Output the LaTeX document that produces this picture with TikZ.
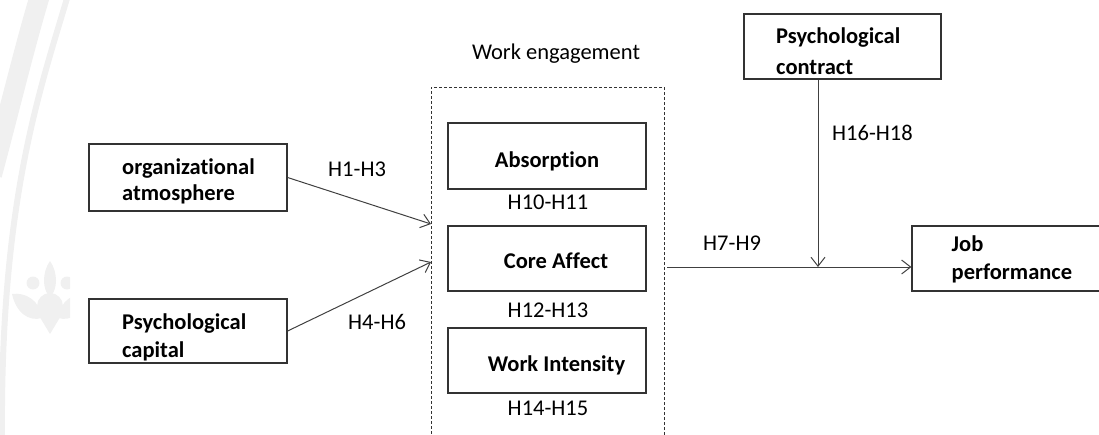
\documentclass[tikz,border=0pt]{standalone}
\usepackage{fontspec}
\setmainfont{Carlito}[Ligatures=NoCommon]
\usetikzlibrary{arrows.meta}
\begin{document}
\begin{tikzpicture}[x=1pt,y=-1pt,
  boxnode/.style={draw=black!80, line width=1.2pt, rectangle, inner sep=0pt},
  lbl/.style={font=\fontsize{22.5}{#1}\selectfont\bfseries, inner sep=0pt, align=left, anchor=base west},
  title/.style={font=\fontsize{22.5}{27}\selectfont\bfseries, inner sep=0pt, anchor=base},
  hyp/.style={font=\fontsize{22.5}{27}\selectfont, inner sep=0pt},
  link/.style={draw=black!75, line width=1pt, -{Straight Barb[length=9pt,width=14pt,line width=1pt]}},
  wm/.style={fill=black!6, draw=none}
]
\clip (0,0) rectangle (1099,434);

% faint background emblem at the left edge
\begin{scope}
  \clip (0,0) rectangle (70,434);
  \draw[black!6, line width=20pt] (41,-8) .. controls (25,45) and (12,100) .. (-8,175);
  \draw[black!6, line width=6pt] (68,-5) .. controls (40,90) and (0,200) .. (2,440);
  \fill[wm] (50,261) .. controls (58,272) and (58,290) .. (50,297)
                     .. controls (42,290) and (42,272) .. (50,261);
  \fill[wm] (33,283) circle (6.5);
  \fill[wm] (67,283) circle (6.5);
  \fill[wm] (50,306) ellipse (13 and 13);
  \fill[wm] (12,294) .. controls (25,292) and (40,300) .. (42,318)
                     .. controls (28,322) and (16,312) .. (12,294);
  \fill[wm] (88,294) .. controls (75,292) and (60,300) .. (58,318)
                     .. controls (72,322) and (84,312) .. (88,294);
  \fill[wm] (38,314) -- (50,334) -- (62,314) -- cycle;
\end{scope}

% antecedents (text anchored on the baseline of its last line)
\node[boxnode, minimum width=198, minimum height=67] (org) at (188,177.5) {};
\node[lbl=26] (orgtxt) at (122,200) {organizational\\atmosphere};
\node[boxnode, minimum width=198, minimum height=64] (cap) at (188,331) {};
\node[lbl=28] (captxt) at (122,357) {Psychological\\capital};

% work engagement group
\node[draw=black!80, line width=0.9pt, dash pattern=on 3pt off 2pt, rectangle,
      minimum width=233, minimum height=370] (we) at (547.5,272) {};
\node[hyp, anchor=base] (wetxt) at (556,59) {Work engagement};
\node[boxnode, minimum width=198, minimum height=66] (abs) at (547,156) {};
\node[title] (abstxt) at (547,167) {Absorption};
\node[boxnode, minimum width=198, minimum height=65] (core) at (547,258.5) {};
\node[title] (coretxt) at (556,268) {Core Affect};
\node[boxnode, minimum width=198, minimum height=65] (wint) at (547,360.5) {};
\node[title] (winttxt) at (556.5,371) {Work Intensity};
\node[hyp, anchor=base] (h10) at (548,209) {H10-H11};
\node[hyp, anchor=base] (h12) at (548,317) {H12-H13};
\node[hyp, anchor=base] (h14) at (548,415) {H14-H15};

% moderator and outcome
\node[boxnode, minimum width=197, minimum height=65] (pc) at (842.5,46.5) {};
\node[lbl=31] (pctxt) at (776,74) {Psychological\\contract};
\node[boxnode, minimum width=193, minimum height=65] (job) at (1008.5,258.5) {};
\node[lbl=28] (jobtxt) at (951.5,279) {Job\\performance};

% hypothesis labels on the paths
\node[hyp, anchor=base west] (h1) at (328,176.7) {H1-H3};
\node[hyp, anchor=base west] (h4) at (348,329) {H4-H6};
\node[hyp, anchor=base west] (h7) at (703,250.7) {H7-H9};
\node[hyp, anchor=base west] (h16) at (832,140) {H16-H18};

% connectors
\coordinate (in1) at (431,224);
\coordinate (in2) at (431,262);
\coordinate (outs) at (667,267);
\coordinate (mod) at (818,267);
\draw[link] (org.east) -- (in1);
\draw[link] (cap.east) -- (in2);
\draw[link] (outs) -- (outs -| job.west);
\draw[link] (pc.south -| mod) -- (mod);
\end{tikzpicture}
\end{document}
